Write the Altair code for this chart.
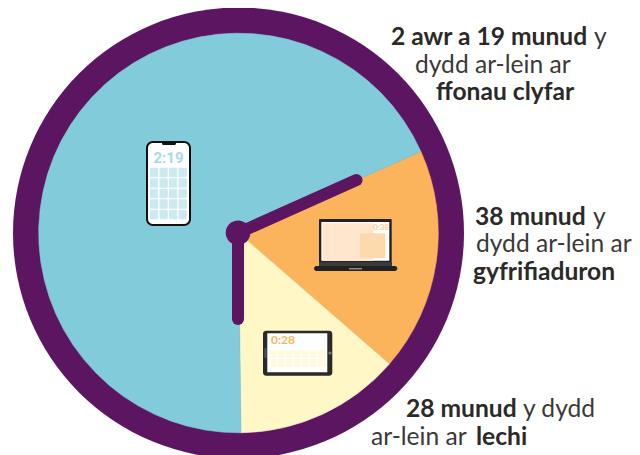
import math
import altair as alt
import pandas as pd

FONT = "Lato"
W, H = 624, 447
CX, CY = 230.5, 225.0

# wedge spans as drawn, clockwise from the blue/orange edge
devices = ["gyfrifiaduron", "lechi", "ffonau clyfar"]
wedge_deg = [65.1, 48.3, 246.6]
wedge_col = ["#FBB45C", "#FFF7C6", "#82CBDA"]
start_deg = 65.9
PURPLE = "#5C1561"
INK = "#2B2A29"

labels = [
    ("2 awr a 19 munud", 1, 383, 37), ("y", 0, 586, 37),
    ("dydd ar-lein ar", 0, 407, 64.5), ("ffonau clyfar", 1, 428, 92),
    ("38 munud", 1, 467, 217), ("y", 0, 585, 217),
    ("dydd ar-lein ar", 0, 468, 244), ("gyfrifiaduron", 1, 465, 272),
    ("28 munud", 1, 398, 409), ("y dydd", 0, 515, 409),
    ("ar-lein ar", 0, 363, 437), ("lechi", 1, 468, 437),
]


def rects(rows, radius=0):
    df = pd.DataFrame(rows, columns=["a", "b", "c", "d", "col"])
    df[["a", "c"]] -= 8
    df[["b", "d"]] -= 8
    return alt.Chart(df).mark_rect(cornerRadius=radius).encode(
        x=alt.X("a:Q", scale=None, axis=None), x2="c:Q",
        y=alt.Y("b:Q", scale=None, axis=None), y2="d:Q",
        color=alt.Color("col:N", scale=None),
    )


def grid(x0, y0, w, h, gx, gy, nx, ny, col):
    return [
        (x0 + i * (w + gx), y0 + j * (h + gy), x0 + i * (w + gx) + w, y0 + j * (h + gy) + h, col)
        for i in range(nx) for j in range(ny)
    ]


def icon_text(s, x, y, size, col, font=FONT):
    return alt.Chart(pd.DataFrame({"t": [s]})).mark_text(
        font=font, fontWeight="bold", fontSize=size, color=col, align="center", baseline="middle"
    ).encode(x=alt.value(x - 8), y=alt.value(y - 8), text="t:N")


def disc(x, y, r, col):
    return alt.Chart(pd.DataFrame({"k": [0]})).mark_arc(
        radius=r, theta=0, theta2=2 * math.pi, color=col
    ).encode(x=alt.value(x), y=alt.value(y))


ring = disc(CX, CY, 225.5, PURPLE)

s = math.radians(start_deg)
wedges = alt.Chart(pd.DataFrame({"d": devices, "deg": wedge_deg, "col": wedge_col, "i": [0, 1, 2]})).mark_arc(
    radius=199.8, strokeWidth=0.6
).encode(
    x=alt.value(CX), y=alt.value(CY),
    theta=alt.Theta("deg:Q", stack=True, scale=alt.Scale(domain=[0, 360], range=[s, s + 2 * math.pi])),
    order=alt.Order("i:Q"),
    color=alt.Color("col:N", scale=None),
    stroke=alt.Stroke("col:N", scale=None),
)


def hand(x2, y2):
    return alt.Chart(pd.DataFrame({"k": [0]})).mark_rule(
        color=PURPLE, strokeWidth=12, strokeCap="round"
    ).encode(x=alt.value(CX - 0.5), y=alt.value(CY), x2=alt.value(x2), y2=alt.value(y2))


hands = [hand(348.5, 172), hand(CX - 0.5, 311), disc(CX - 0.5, CY - 0.2, 12.3, PURPLE)]

phone = [
    rects([(146, 141, 191, 226, "#111111")], 7),
    rects([(148, 143, 189, 224, "#FFFFFF")], 5),
    rects([(162, 142, 176, 145, "#111111")], 1.5),
    rects(grid(150, 167.7, 8.3, 9.5, 1.2, 1.0, 4, 5, "#CDE9F0"), 1.5),
    icon_text("2:19", 168.5, 158, 15, "#A6DBE6", "Roboto"),
]
laptop = [
    rects([(319, 219, 391.7, 263, "#222222")], 1),
    rects([(321.3, 222, 389.3, 260.7, "#FFFFFF")]),
    rects([(322.7, 223.3, 373.3, 261, "#FFE6CC")]),
    rects([(360, 233.3, 385.3, 258, "#FDD9AE")], 1.5),
    rects([(319, 262, 392, 267, "#3A3A3A")]),
    rects([(314, 266, 397.3, 271, "#222222")], 2.5),
    rects([(349, 268, 362, 269.5, "#8A8A8A")]),
    icon_text("0:38", 381, 227.5, 8, "#FBCB94"),
]
tablet = [
    rects([(263, 330.7, 332.3, 375.7, "#2A2A2A")], 3),
    rects([(267.3, 333.3, 327.3, 372.3, "#FFFFFF")]),
    rects([(264.5, 348, 266.5, 358, "#555555")], 1),
    rects(grid(270, 350, 7, 8, 1, 1, 7, 2, "#FFFBE3"), 1),
    icon_text("0:28", 283, 340, 12, "#FBB45C"),
    disc(322, 345, 1.6, "#777777"),
]

tdf = pd.DataFrame(labels, columns=["t", "b", "x", "y"])


def texts(df, weight, col):
    return alt.Chart(df).mark_text(
        font=FONT, fontSize=24.6, fontWeight=weight, color=col, align="left", baseline="alphabetic"
    ).encode(
        x=alt.X("x:Q", scale=None, axis=None),
        y=alt.Y("y:Q", scale=None, axis=None),
        text="t:N",
    )


tb = texts(tdf[tdf.b == 1], "bold", INK)
tr = texts(tdf[tdf.b == 0], "normal", "#3A3938")

chart = alt.layer(ring, wedges, *phone, *laptop, *tablet, *hands, tb, tr).properties(
    width=W, height=H, padding=0, autosize=alt.AutoSizeParams(type="none"),
    background="#FFFFFF",
).configure_view(stroke=None)

chart.save("out.html", embed_options={"renderer": "svg", "actions": False})
